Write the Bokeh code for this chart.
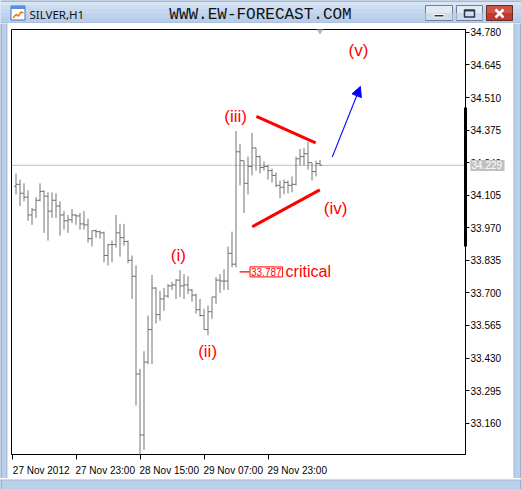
from bokeh.plotting import figure
from bokeh.layouts import column, row
from bokeh.models import (Range1d, LinearAxis, FixedTicker, PrintfTickFormatter, Span, Label,
                          Arrow, NormalHead, ColumnDataSource)
from bokeh.core.properties import value
from bokeh.embed import file_html
from bokeh.resources import INLINE

# ---------------- data ----------------
symbol = "SILVER,H1"
site_name = "WWW.EW-FORECAST.COM"

bar_open = [34.142, 34.150, 34.113, 34.097, 34.023, 34.044, 34.084, 34.121, 34.101, 34.039,
            34.084, 34.060, 34.023, 33.999, 34.003, 34.023, 34.019, 33.986, 33.982, 33.925,
            33.958, 33.954, 33.949, 33.855, 33.900, 33.900, 33.949, 33.929, 33.913, 33.835,
            33.769, 33.364, 33.111, 33.413, 33.548, 33.720, 33.610, 33.675, 33.687, 33.729,
            33.733, 33.753, 33.729, 33.733, 33.712, 33.691, 33.630, 33.606, 33.548, 33.622,
            33.683, 33.753, 33.749, 33.749, 33.864, 33.819, 34.285, 34.248, 34.154, 34.224,
            34.301, 34.265, 34.220, 34.224, 34.207, 34.187, 34.146, 34.138, 34.158, 34.146,
            34.150, 34.256, 34.265, 34.277, 34.240, 34.203, 34.236]
bar_high = [34.195, 34.170, 34.154, 34.125, 34.052, 34.097, 34.154, 34.125, 34.117, 34.117,
            34.113, 34.080, 34.039, 34.023, 34.048, 34.027, 34.031, 34.039, 34.007, 33.958,
            33.962, 33.958, 33.954, 33.904, 33.917, 34.023, 33.986, 33.986, 33.917, 33.855,
            33.814, 33.385, 33.458, 33.606, 33.774, 33.724, 33.708, 33.720, 33.737, 33.745,
            33.757, 33.794, 33.778, 33.769, 33.716, 33.696, 33.675, 33.634, 33.647, 33.683,
            33.765, 33.778, 33.798, 33.892, 33.954, 34.371, 34.318, 34.248, 34.265, 34.363,
            34.301, 34.269, 34.244, 34.232, 34.215, 34.199, 34.166, 34.170, 34.166, 34.183,
            34.265, 34.297, 34.301, 34.326, 34.240, 34.248, 34.252]
bar_low = [34.109, 34.060, 34.080, 33.999, 33.982, 34.011, 34.080, 33.949, 33.917, 34.011,
           34.011, 33.937, 33.962, 33.949, 33.990, 33.982, 33.962, 33.962, 33.908, 33.892,
           33.929, 33.925, 33.827, 33.814, 33.827, 33.888, 33.851, 33.896, 33.823, 33.675,
           33.233, 33.033, 33.049, 33.405, 33.405, 33.573, 33.585, 33.626, 33.679, 33.712,
           33.675, 33.683, 33.675, 33.696, 33.663, 33.614, 33.602, 33.548, 33.524, 33.593,
           33.655, 33.700, 33.712, 33.712, 33.806, 33.806, 34.146, 34.031, 34.109, 34.187,
           34.207, 34.195, 34.207, 34.170, 34.158, 34.138, 34.093, 34.109, 34.113, 34.117,
           34.146, 34.228, 34.228, 34.211, 34.166, 34.183, 34.228]
bar_close = [34.150, 34.113, 34.097, 34.023, 34.044, 34.084, 34.121, 34.101, 34.039, 34.084,
             34.060, 34.023, 33.999, 34.003, 34.023, 34.019, 33.986, 33.982, 33.925, 33.958,
             33.954, 33.949, 33.855, 33.900, 33.900, 33.949, 33.929, 33.913, 33.835, 33.769,
             33.364, 33.111, 33.413, 33.548, 33.720, 33.610, 33.675, 33.687, 33.729, 33.733,
             33.753, 33.729, 33.733, 33.712, 33.691, 33.630, 33.606, 33.548, 33.622, 33.683,
             33.753, 33.749, 33.749, 33.864, 33.819, 34.285, 34.248, 34.154, 34.224, 34.301,
             34.265, 34.220, 34.224, 34.207, 34.187, 34.146, 34.138, 34.158, 34.146, 34.150,
             34.256, 34.265, 34.277, 34.240, 34.203, 34.236, 34.229]
bar_index = list(range(len(bar_close)))

last_price = 34.229
critical_level = 33.787
critical_text = "critical"

y_ticks = [33.160, 33.295, 33.430, 33.565, 33.700, 33.835, 33.970,
           34.105, 34.240, 34.375, 34.510, 34.645, 34.780]
x_tick_bars = [-1, 15, 31, 47, 63]
x_tick_labels = ["27 Nov 2012", "27 Nov 23:00", "28 Nov 15:00", "29 Nov 07:00", "29 Nov 23:00"]

wave_names = ["(i)", "(ii)", "(iii)", "(iv)", "(v)"]
wave_bar = [40.6, 47.9, 54.9, 79.9, 85.6]
wave_price = [33.853, 33.457, 34.430, 34.050, 34.704]

upper_line_bar = [60.1, 74.9]
upper_line_price = [34.432, 34.322]
lower_line_bar = [59.05, 75.95]
lower_line_price = [33.974, 34.127]
arrow_bar = [79.05, 86.1]
arrow_price = [34.263, 34.556]
critical_line_bar = [55.9, 58.4]

# ---------------- styles ----------------
BAR = "#727272"
RED = "#ff0000"
FONT = "Liberation Sans"
CHROME = "#bad0ea"
CHROME_IN = "#a3b4ca"
CHROME_OUT = "#7a8fab"


def bare(width, height, xr, yr):
    f = figure(width=width, height=height, x_range=Range1d(*xr), y_range=Range1d(*yr),
               output_backend="svg", toolbar_location=None, x_axis_location=None,
               y_axis_location=None, min_border=0, outline_line_color=None)
    f.grid.visible = False
    f.background_fill_color = CHROME
    f.border_fill_color = CHROME
    return f


# ---------------- title bar (x = page px, y = -page px) ----------------
t = bare(521, 23, (0, 521), (-23, 0))
bands = ["#d8e5f5", "#cedcf1", "#c5d8ef", "#bdd2eb", "#b7cde9"]
t.quad(left=[0] * 5, right=[521] * 5, top=[0, -4.4, -8.8, -13.2, -17.6],
       bottom=[-4.4, -8.8, -13.2, -17.6, -22], fill_color=bands, line_color=None)
t.quad(left=[0], right=[521], top=[0], bottom=[-1], fill_color=CHROME_OUT, line_color=None)
t.quad(left=[0], right=[521], top=[-22], bottom=[-23], fill_color=CHROME_IN, line_color=None)
# icon
t.quad(left=[10.5], right=[24.5], top=[-5.5], bottom=[-19.5], fill_color="#ffffff",
       line_color="#3f72c4")
t.quad(left=[10.5], right=[24.5], top=[-5.5], bottom=[-8.5], fill_color="#5c8fd8", line_color=None)
t.line([12.5, 15.5, 18, 20.5, 23], [-17.5, -14, -15.5, -11.5, -12.5], line_color="#ee7a1a",
       line_width=1.5)
t.text(x=[29], y=[-13.5], text=[symbol], text_font=value("Noto Sans"), text_font_size="11.5px",
       text_baseline="middle", text_align="left", text_color="#101010")
t.text(x=[260], y=[-14], text=[site_name], text_font=value("Liberation Mono"),
       text_font_size="16px", text_baseline="middle", text_align="center", text_color="#111111")
# window buttons
t.quad(left=[425, 456], right=[452, 482], top=[-5, -5], bottom=[-20, -20],
       fill_color="#e2eaf4", line_color="#6f7f96")
t.quad(left=[425, 456], right=[452, 482], top=[-12.5, -12.5], bottom=[-19.5, -19.5],
       fill_color="#cfdbea", line_color=None)
t.quad(left=[486], right=[512], top=[-5], bottom=[-20], fill_color="#cd5347", line_color="#6b2b25")
t.quad(left=[486.5], right=[511.5], top=[-12.5], bottom=[-19.5], fill_color="#bb3b2f",
       line_color=None)
t.quad(left=[433.5], right=[443.5], top=[-14], bottom=[-16.5], fill_color="#243451",
       line_color="#ffffff")
t.quad(left=[464], right=[474], top=[-9.5], bottom=[-16.5], fill_color=None, line_color="#243451",
       line_width=1.5)
t.quad(left=[464], right=[474], top=[-9.5], bottom=[-11], fill_color="#243451", line_color=None)
t.segment(x0=[495, 503], y0=[-9, -9], x1=[503, 495], y1=[-17, -17], line_color="#ffffff",
          line_width=2.5)

# ---------------- side and bottom chrome ----------------
left_strip = bare(8, 455, (0, 8), (0, 455))
left_strip.quad(left=[0, 6, 7], right=[1, 7, 8], top=[455] * 3, bottom=[0] * 3,
                fill_color=[CHROME_OUT, CHROME_IN, "#ffffff"], line_color=None)
right_strip = bare(8, 455, (0, 8), (0, 455))
right_strip.quad(left=[0, 7], right=[1, 8], top=[455] * 2, bottom=[0] * 2,
                 fill_color=[CHROME_IN, CHROME_OUT], line_color=None)
bottom_strip = bare(521, 11, (0, 521), (-11, 0))
bottom_strip.quad(left=[0, 0], right=[521, 521], top=[0, -10], bottom=[-1, -11],
                  fill_color=[CHROME_IN, CHROME_OUT], line_color=None)
bottom_strip.quad(left=[0, 520], right=[1, 521], top=[0, 0], bottom=[-11, -11],
                  fill_color=CHROME_OUT, line_color=None)

# ---------------- main chart ----------------
p = figure(width=505, height=455, x_range=Range1d(-1.125, 112.375),
           y_range=Range1d(33.030, 34.792),
           output_backend="svg", toolbar_location=None, x_axis_location=None, y_axis_location=None,
           min_border_left=3, min_border_right=48, min_border_top=6, min_border_bottom=18)
p.grid.visible = False
p.outline_line_color = "black"
p.outline_line_width = 1
p.background_fill_color = "white"
p.border_fill_color = "white"

for f in (t, left_strip, right_strip, bottom_strip, p):
    try:
        f.frame_align = False
    except AttributeError:
        pass

thick = LinearAxis(bounds=(33.892, 34.469), ticker=FixedTicker(ticks=[]), axis_line_width=3,
                   axis_line_color="black", major_tick_out=0, major_tick_in=0,
                   minor_tick_out=0, minor_tick_in=0, major_label_text_font_size="0px",
                   major_label_standoff=0)
p.add_layout(thick, "right")

yax = LinearAxis(ticker=FixedTicker(ticks=y_ticks), formatter=PrintfTickFormatter(format="%.3f"),
                 axis_line_color="black", major_tick_in=0, major_tick_out=4,
                 minor_tick_in=0, minor_tick_out=0, major_tick_line_color="black",
                 major_label_standoff=1, major_label_text_font=FONT,
                 major_label_text_font_size="10px", major_label_text_color="black")
p.add_layout(yax, "right")

# last price tag: an outer axis whose single tick is drawn inwards as a grey box
tag = LinearAxis(ticker=FixedTicker(ticks=[last_price]), formatter=PrintfTickFormatter(format="%.3f"),
                 axis_line_color=None, major_tick_in=34, major_tick_out=0,
                 major_tick_line_color="#c0c0c0", major_tick_line_width=11,
                 major_tick_line_cap="butt", minor_tick_in=0, minor_tick_out=0,
                 major_label_standoff=-33, major_label_text_font=FONT,
                 major_label_text_font_size="10px", major_label_text_color="white")
p.add_layout(tag, "right")

label_offset = 7.3
label_centers = [b + label_offset for b in x_tick_bars]
xax = LinearAxis(ticker=FixedTicker(ticks=label_centers, minor_ticks=x_tick_bars),
                 major_label_overrides={c: s for c, s in zip(label_centers, x_tick_labels)},
                 axis_line_color="black", major_tick_in=0, major_tick_out=0,
                 major_tick_line_color=None, minor_tick_in=0, minor_tick_out=5,
                 minor_tick_line_color="black", major_label_standoff=5,
                 major_label_text_font=FONT, major_label_text_font_size="10px",
                 major_label_text_color="black")
p.add_layout(xax, "below")

# bid line
p.add_layout(Span(location=last_price, dimension="width", line_color="#c0c0c0", line_width=1,
                  level="underlay"))

src = ColumnDataSource(dict(x=bar_index, o=bar_open, h=bar_high, l=bar_low, c=bar_close,
                            xl=[i - 0.5 for i in bar_index], xr=[i + 0.5 for i in bar_index]))
p.segment("x", "l", "x", "h", source=src, line_color=BAR, line_width=1)
p.segment("xl", "o", "x", "o", source=src, line_color=BAR, line_width=1)
p.segment("x", "c", "xr", "c", source=src, line_color=BAR, line_width=1)

# chart-shift marker on the top border
p.scatter(x=[bar_index[-1]], y=[34.792], marker="inverted_triangle", size=8,
          fill_color="#b8b8b8", line_color="#b8b8b8")

# triangle lines
p.line(upper_line_bar, upper_line_price, line_color=RED, line_width=3)
p.line(lower_line_bar, lower_line_price, line_color=RED, line_width=3)

# blue arrow
p.add_layout(Arrow(end=NormalHead(size=10, fill_color="#0000ff", line_color="#0000ff"),
                   x_start=arrow_bar[0], y_start=arrow_price[0], x_end=arrow_bar[1],
                   y_end=arrow_price[1], line_color="#0000ff", line_width=1.1))

# wave labels
wsrc = ColumnDataSource(dict(x=wave_bar, y=wave_price, t=wave_names))
p.text("x", "y", "t", source=wsrc, text_font=value(FONT), text_font_size="17px",
       text_color=RED, text_align="center", text_baseline="middle")

# critical level
p.line(critical_line_bar, [critical_level] * 2, line_color=RED, line_width=1.2)
p.add_layout(Label(x=critical_line_bar[1] + 0.1, y=critical_level, text=f"{critical_level:.3f}",
                   text_font=FONT, text_font_size="10px", text_color=RED, text_baseline="middle",
                   background_fill_color="white", border_line_color=RED, border_line_width=1,
                   padding=1))
p.add_layout(Label(x=67.4, y=critical_level, text=critical_text, text_font=FONT,
                   text_font_size="16px", text_color=RED, text_baseline="middle"))

layout = column(t, row(left_strip, p, right_strip, spacing=0), bottom_strip, spacing=0)
open("out.html", "w").write(file_html(layout, INLINE))
